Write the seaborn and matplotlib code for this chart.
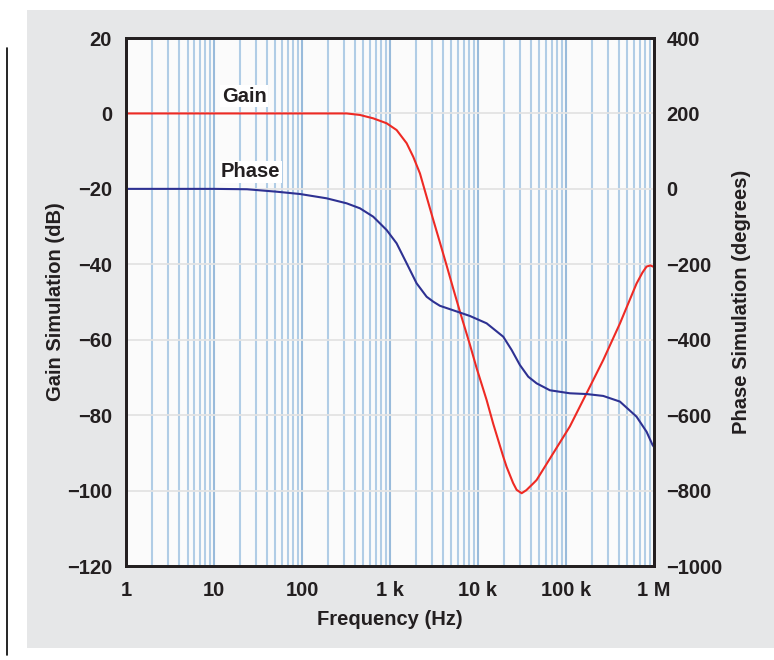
import matplotlib
matplotlib.use("Agg")
import matplotlib.pyplot as plt
import seaborn as sns
import numpy as np
from matplotlib.patches import Rectangle
from matplotlib.lines import Line2D
from matplotlib.ticker import LogLocator, NullFormatter

# ---- data ----
gain_freq = [1, 10, 100, 322, 456, 646, 916, 1191, 1549, 1841, 2193, 2612,
             3105, 3698, 4406, 5248, 6237, 8110, 9661, 12560, 14930, 19410,
             21180, 25120, 27540, 31410, 35480, 42560, 46450, 71780, 110900,
             171800, 265500, 411100, 635300, 741300, 826000, 912000, 1000000]
gain_db = [0, 0, 0, 0, -0.4, -1.3, -2.6, -4.4, -7.9, -11.5, -15.9, -22.1,
           -28.2, -34.2, -40.3, -46.5, -52.5, -61.3, -67.5, -76.0, -82.3, -91.0,
           -93.7, -98.0, -99.8, -100.7, -99.9, -98.1, -97.2, -90.1, -83.0,
           -74.2, -65.4, -55.7, -45.1, -42.2, -40.6, -40.3, -40.7]

phase_freq = [1, 10, 23.7, 51.6, 94.8, 190.5, 322, 456, 646, 916, 1191, 1549,
              2009, 2612, 3105, 3698, 5248, 8110, 12560, 19410, 24150, 30000,
              37330, 46450, 65770, 110900, 171800, 265500, 411100, 635300,
              826000, 966000, 1000000]
phase_deg = [0, 0, -1, -7.5, -13.6, -25, -38.3, -51.5, -73.8, -109, -144.4,
             -197.4, -250.4, -286, -299, -310, -322, -337, -356.5, -392, -427,
             -467, -498, -515.6, -534, -542, -544, -549, -564, -604, -644,
             -679, -684]

x_ticks = [1, 10, 100, 1e3, 1e4, 1e5, 1e6]
x_labels = ["1", "10", "100", "1 k", "10 k", "100 k", "1 M"]
gain_ticks = [20, 0, -20, -40, -60, -80, -100, -120]
phase_ticks = [400, 200, 0, -200, -400, -600, -800, -1000]

sns.set_style("white")
plt.rcParams['font.family'] = ['Liberation Sans', 'DejaVu Sans']
plt.rcParams['font.weight'] = 'bold'
plt.rcParams['axes.labelweight'] = 'bold'

FS = 14.5
TXT = '#231f20'
fig = plt.figure(figsize=(7.74, 6.6), dpi=100, facecolor='white')
fig.patches.append(Rectangle((0.0349, 0.018), 0.9651, 0.967, transform=fig.transFigure,
                             facecolor='#e6e7e8', edgecolor='none', zorder=-10))
fig.add_artist(Line2D([0.009, 0.009], [0.0076, 0.927], color='black', lw=1.2))

ax = fig.add_axes([0.1628, 0.1424, 0.682, 0.80])
ax.set_facecolor('#fbfbfb')
ax.set_xscale('log')
ax.set_xlim(1, 1e6)
ax.set_ylim(-120, 20)

ax.xaxis.set_minor_locator(LogLocator(base=10, subs=np.arange(2, 10)))
ax.xaxis.set_minor_formatter(NullFormatter())
ax.grid(True, which='major', axis='x', color='#8fb4d8', lw=1.5, alpha=0.9)
ax.grid(True, which='minor', axis='x', color='#a9c8e4', lw=1.5, alpha=0.9)
ax.grid(True, which='major', axis='y', color='#e3e3e3', lw=1.3)
ax.set_axisbelow(True)

sns.lineplot(x=gain_freq, y=gain_db, ax=ax, color='#ee2a24', linewidth=1.5)

ax.set_xticks(x_ticks)
ax.set_xticklabels(x_labels)
ax.set_yticks(gain_ticks)
ax.tick_params(axis='both', which='both', length=0, labelsize=FS, colors=TXT)
ax.tick_params(axis='x', pad=11)
ax.tick_params(axis='y', pad=10)
ax.set_xlabel('Frequency (Hz)', fontsize=FS, fontweight='bold', color=TXT, labelpad=7)
ax.set_ylabel('Gain Simulation (dB)', fontsize=FS, fontweight='bold', color=TXT, labelpad=1)
for s in ax.spines.values():
    s.set_color(TXT)
    s.set_linewidth(2)

ax.text(12.3, 4.6, 'Gain', fontsize=FS, fontweight='bold', color=TXT, va='center', ha='left',
        zorder=5, bbox=dict(facecolor='white', edgecolor='none', pad=1))
ax.text(12.0, -15.5, 'Phase', fontsize=FS, fontweight='bold', color=TXT, va='center', ha='left',
        zorder=5, bbox=dict(facecolor='white', edgecolor='none', pad=1))

ax2 = ax.twinx()
ax2.set_ylim(-1000, 400)
sns.lineplot(x=phase_freq, y=phase_deg, ax=ax2, color='#2e3192', linewidth=1.5)
ax2.set_yticks(phase_ticks)
ax2.tick_params(axis='y', length=0, labelsize=FS, colors=TXT, pad=9)
ax2.set_ylabel('Phase Simulation (degrees)', fontsize=FS, fontweight='bold', color=TXT, labelpad=7)
ax2.grid(False)
for s in ax2.spines.values():
    s.set_color(TXT)
    s.set_linewidth(2)

for lab in ax.get_xticklabels() + ax.get_yticklabels() + ax2.get_yticklabels():
    lab.set_fontweight('bold')

fig.savefig('out.png', dpi=100)
